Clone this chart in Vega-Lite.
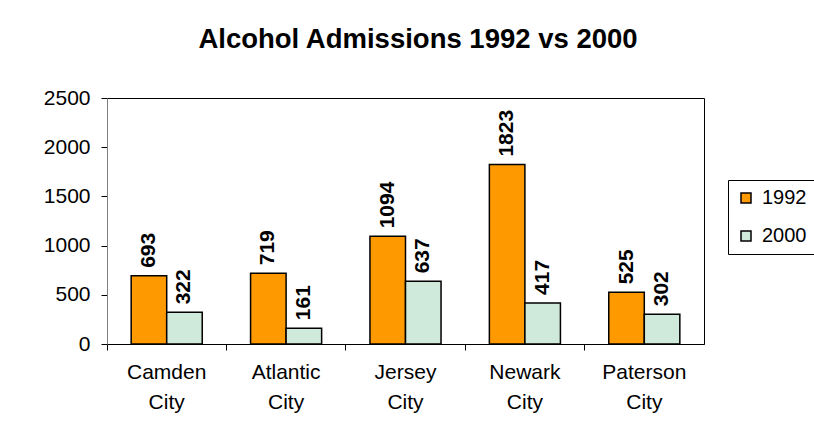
{
  "$schema": "https://vega.github.io/schema/vega-lite/v6.json",
  "width": 597,
  "height": 246,
  "autosize": {"type": "none"},
  "padding": {"left": 107, "top": 98, "right": 110, "bottom": 79},
  "background": "white",
  "title": {"text": "Alcohol Admissions 1992 vs 2000", "font": "Liberation Sans", "fontSize": 27.5, "fontWeight": "bold", "anchor": "middle", "frame": "group", "dx": 12.5, "offset": 34, "color": "black"},
  "data": {"values": [
    {"city": "Camden City", "year": "1992", "value": 693},
    {"city": "Camden City", "year": "2000", "value": 322},
    {"city": "Atlantic City", "year": "1992", "value": 719},
    {"city": "Atlantic City", "year": "2000", "value": 161},
    {"city": "Jersey City", "year": "1992", "value": 1094},
    {"city": "Jersey City", "year": "2000", "value": 637},
    {"city": "Newark City", "year": "1992", "value": 1823},
    {"city": "Newark City", "year": "2000", "value": 417},
    {"city": "Paterson City", "year": "1992", "value": 525},
    {"city": "Paterson City", "year": "2000", "value": 302}
  ]},
  "encoding": {
    "x": {"field": "city", "type": "nominal", "sort": null,
      "scale": {"paddingInner": 0, "paddingOuter": 0},
      "axis": {"title": null, "labelAngle": 0, "domainColor": "black", "tickColor": "black", "tickSize": 6, "bandPosition": 0, "labelPadding": 11, "labelFontSize": 21, "labelLineHeight": 30, "labelExpr": "[replace(datum.label, ' City', ''), 'City']"}},
    "xOffset": {"field": "year", "type": "nominal", "scale": {"paddingInner": 0, "paddingOuter": 0.68}},
    "y": {"field": "value", "type": "quantitative", "scale": {"domain": [0, 2500]},
      "axis": {"title": null, "values": [0, 500, 1000, 1500, 2000, 2500], "format": "d", "domainColor": "#808080", "tickColor": "black", "tickSize": 6, "labelPadding": 11, "labelFontSize": 21, "grid": false}}
  },
  "layer": [
    {"mark": {"type": "bar", "stroke": "black", "strokeWidth": 1.5},
     "encoding": {"color": {"field": "year", "type": "nominal",
        "scale": {"domain": ["1992", "2000"], "range": ["#FF9900", "#cfe9da"]},
        "legend": {"title": null, "orient": "none", "legendX": 621, "legendY": 82, "strokeColor": "black", "padding": 8, "symbolType": "square", "symbolSize": 100, "symbolStrokeColor": "black", "symbolStrokeWidth": 1.5, "labelFontSize": 20, "labelFont": "Liberation Sans", "labelColor": "black", "rowPadding": 18, "labelOffset": 6, "fillColor": "white"}}}},
    {"mark": {"type": "text", "angle": 270, "align": "left", "baseline": "middle", "dx": 8, "font": "Liberation Sans", "fontSize": 21, "fontWeight": "bold", "color": "black"},
     "encoding": {"text": {"field": "value", "type": "quantitative", "format": "d"}}}
  ],
  "config": {
    "view": {"stroke": "black", "strokeWidth": 1},
    "axis": {"labelFont": "Liberation Sans", "labelColor": "black"}
  }
}
